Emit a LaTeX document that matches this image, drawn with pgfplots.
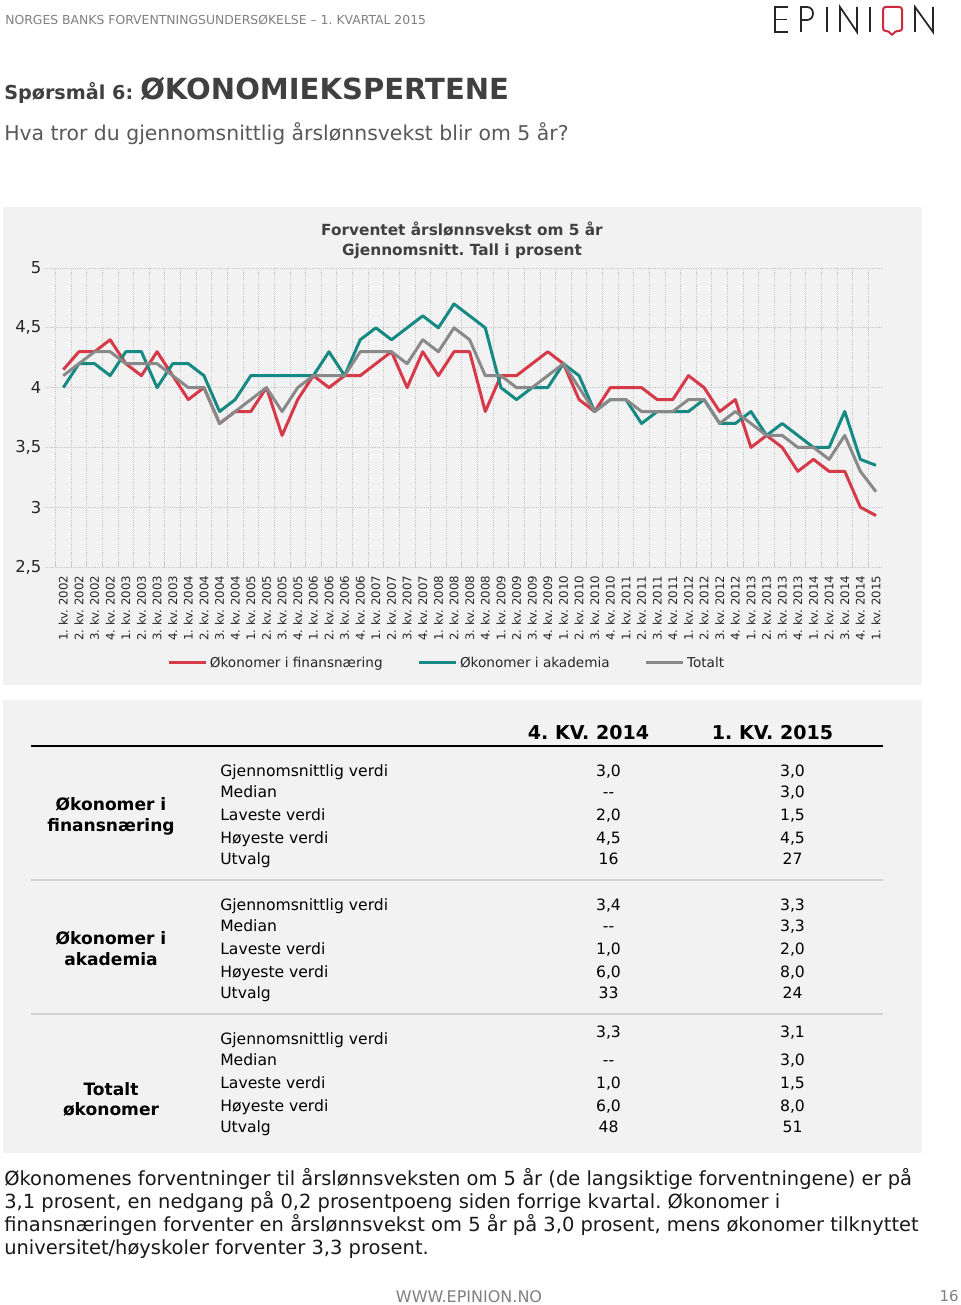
\documentclass[border=0pt]{standalone}
\usepackage{pgfplots}
\pgfplotsset{compat=1.18}
\usepackage{pgfplotstable}
\usepackage{fontspec}
\setmainfont{DejaVu Sans}
\frenchspacing
\definecolor{cred}{RGB}{214,57,72}
\definecolor{cteal}{RGB}{21,137,130}
\definecolor{cgray}{RGB}{137,137,137}
\definecolor{panel}{RGB}{242,242,242}
\definecolor{dark}{RGB}{64,64,64}
\definecolor{sub}{RGB}{89,89,89}
\definecolor{hdr}{RGB}{128,128,128}
\definecolor{gridc}{RGB}{200,200,200}
\definecolor{logored}{RGB}{208,40,60}

\pgfplotstableread{
x fin aka tot
0 4.15 4.0 4.1
1 4.3 4.2 4.2
2 4.3 4.2 4.3
3 4.4 4.1 4.3
4 4.2 4.3 4.2
5 4.1 4.3 4.2
6 4.3 4.0 4.2
7 4.1 4.2 4.1
8 3.9 4.2 4.0
9 4.0 4.1 4.0
10 3.7 3.8 3.7
11 3.8 3.9 3.8
12 3.8 4.1 3.9
13 4.0 4.1 4.0
14 3.6 4.1 3.8
15 3.9 4.1 4.0
16 4.1 4.1 4.1
17 4.0 4.3 4.1
18 4.1 4.1 4.1
19 4.1 4.4 4.3
20 4.2 4.5 4.3
21 4.3 4.4 4.3
22 4.0 4.5 4.2
23 4.3 4.6 4.4
24 4.1 4.5 4.3
25 4.3 4.7 4.5
26 4.3 4.6 4.4
27 3.8 4.5 4.1
28 4.1 4.0 4.1
29 4.1 3.9 4.0
30 4.2 4.0 4.0
31 4.3 4.0 4.1
32 4.2 4.2 4.2
33 3.9 4.1 4.0
34 3.8 3.8 3.8
35 4.0 3.9 3.9
36 4.0 3.9 3.9
37 4.0 3.7 3.8
38 3.9 3.8 3.8
39 3.9 3.8 3.8
40 4.1 3.8 3.9
41 4.0 3.9 3.9
42 3.8 3.7 3.7
43 3.9 3.7 3.8
44 3.5 3.8 3.7
45 3.6 3.6 3.6
46 3.5 3.7 3.6
47 3.3 3.6 3.5
48 3.4 3.5 3.5
49 3.3 3.5 3.4
50 3.3 3.8 3.6
51 3.0 3.4 3.3
52 2.93 3.35 3.13
}\datatab

\begin{document}
\begin{tikzpicture}
\begin{scope}[x=0.75pt,y=-0.75pt]
\fill[white] (0,0) rectangle (960,1305);
\fill[panel] (3,207) rectangle (922,685);
\fill[panel] (3,700) rectangle (922,1153);
\end{scope}

\begin{axis}[
  at={(33.75pt,-425.25pt)}, anchor=south west,
  scale only axis, width=628.5pt, height=224.25pt,
  xmin=-1.17, xmax=52.45, ymin=2.5, ymax=5,
  axis line style={draw=none},
  tick pos=left,
  xtick={0,...,52},
  xticklabels={1. kv. 2002,2. kv. 2002,3. kv. 2002,4. kv. 2002,
    1. kv. 2003,2. kv. 2003,3. kv. 2003,4. kv. 2003,
    1. kv. 2004,2. kv. 2004,3. kv. 2004,4. kv. 2004,
    1. kv. 2005,2. kv. 2005,3. kv. 2005,4. kv. 2005,
    1. kv. 2006,2. kv. 2006,3. kv. 2006,4. kv. 2006,
    1. kv. 2007,2. kv. 2007,3. kv. 2007,4. kv. 2007,
    1. kv. 2008,2. kv. 2008,3. kv. 2008,4. kv. 2008,
    1. kv. 2009,2. kv. 2009,3. kv. 2009,4. kv. 2009,
    1. kv. 2010,2. kv. 2010,3. kv. 2010,4. kv. 2010,
    1. kv. 2011,2. kv. 2011,3. kv. 2011,4. kv. 2011,
    1. kv. 2012,2. kv. 2012,3. kv. 2012,4. kv. 2012,
    1. kv. 2013,2. kv. 2013,3. kv. 2013,4. kv. 2013,
    1. kv. 2014,2. kv. 2014,3. kv. 2014,4. kv. 2014,
    1. kv. 2015},
  minor xtick={-0.5,0.5,...,52.5},
  xminorgrids=true, ymajorgrids=true,
  minor grid style={densely dotted, color=gridc, line width=0.6pt},
  major grid style={densely dotted, color=gridc, line width=0.6pt},
  ytick={2.5,3,3.5,4,4.5,5},
  major tick length=0pt, minor tick length=4pt,
  minor tick style={color=gridc, line width=0.6pt},
  yticklabel style={font=\fontsize{12.3}{14}\selectfont, color=black!85, inner sep=0pt,
    /pgf/number format/use comma, /pgf/number format/fixed,
    /pgf/number format/assume math mode=true},
  yticklabel shift=2.5pt,
  xticklabel style={font=\fontsize{8.8}{10}\selectfont, rotate=90, anchor=east, color=black!85},
  xticklabel shift=3pt,
  legend columns=3,
  legend image code/.code={\draw[#1] (0pt,0pt) -- (27.75pt,0pt);},
  legend style={at={(0.4797,-0.321)}, anchor=center, draw=none, fill=none,
    font=\fontsize{10.2}{12}\selectfont, text=black!85,
    /tikz/every even column/.append style={column sep=24pt}},
]
\addplot[cred, line width=2.25pt, line join=round] table[x=x,y=fin]{\datatab};
\addplot[cteal, line width=2.25pt, line join=round] table[x=x,y=aka]{\datatab};
\addplot[cgray, line width=2.25pt, line join=round] table[x=x,y=tot]{\datatab};
\legend{Økonomer i finansnæring, Økonomer i akademia, Totalt}
\end{axis}

\begin{scope}[x=0.75pt,y=-0.75pt, every node/.style={inner sep=0pt}]
% header
\node[anchor=base west, text=hdr] at (5,25) {\fontsize{9.3}{11}\selectfont NORGES BANKS FORVENTNINGSUNDERSØKELSE – 1. KVARTAL 2015};
% logo
\begin{scope}[line width=1.3pt, black!85]
\draw (788,7) -- (775,7) -- (775,32) -- (788,32);
\draw (775,19.5) -- (787,19.5);
\draw (801,32) -- (801,7) -- (807,7) .. controls (815,7) and (815,20) .. (807,20) -- (801,20);
\draw (827,7) -- (827,32);
\draw (840,32) -- (840,7) -- (857,32) -- (857,7);
\draw (870,7) -- (870,32);
\draw (915,32) -- (915,7) -- (933,32) -- (933,7);
\end{scope}
\draw[logored, line width=1.5pt, rounded corners=2pt] (889,31) -- (883,31) -- (883,7) -- (902,7) -- (902,31) -- (895,31) -- (892,36) -- cycle;
% title
\node[anchor=base west, text=dark] at (4,100) {\fontsize{14.4}{17}\selectfont\bfseries Spørsmål 6:};
\node[anchor=base west, text=dark] at (140,100) {\fontsize{21.8}{26}\selectfont\bfseries ØKONOMIEKSPERTENE};
\node[anchor=base west, text=sub] at (4,141) {\fontsize{15.3}{18}\selectfont Hva tror du gjennomsnittlig årslønnsvekst blir om 5 år?};
% chart title
\node[anchor=base, text=dark] at (462,236) {\fontsize{11.5}{14}\selectfont\bfseries Forventet årslønnsvekst om 5 år};
\node[anchor=base, text=dark] at (462,255) {\fontsize{11.5}{14}\selectfont\bfseries Gjennomsnitt. Tall i prosent};
% table header
\node[anchor=base] at (588.5,739) {\fontsize{14.3}{17}\selectfont\bfseries 4. KV. 2014};
\node[anchor=base] at (772.5,739) {\fontsize{14.3}{17}\selectfont\bfseries 1. KV. 2015};
\draw[black, line width=1.5pt] (31,745.5) -- (883,745.5);
\draw[black!18, line width=1.5pt] (31,880) -- (883,880);
\draw[black!18, line width=1.5pt] (31,1014) -- (883,1014);
% group labels
\begin{scope}[every node/.append style={font=\fontsize{12.8}{15}\selectfont\bfseries, anchor=base}]
\node at (111,810) {Økonomer i};
\node at (111,831) {finansnæring};
\node at (111,944) {Økonomer i};
\node at (111,965) {akademia};
\node at (111,1095) {Totalt};
\node at (111,1115) {økonomer};
\end{scope}
% row labels and values
\begin{scope}[every node/.append style={font=\fontsize{11.7}{14}\selectfont}]
\node[anchor=base west] at (220,776) {Gjennomsnittlig verdi};
\node[anchor=base west] at (220,797) {Median};
\node[anchor=base west] at (220,820) {Laveste verdi};
\node[anchor=base west] at (220,843) {Høyeste verdi};
\node[anchor=base west] at (220,864) {Utvalg};
\node[anchor=base] at (608.5,776) {3,0};
\node[anchor=base] at (608.5,797) {-{}-};
\node[anchor=base] at (608.5,820) {2,0};
\node[anchor=base] at (608.5,843) {4,5};
\node[anchor=base] at (608.5,864) {16};
\node[anchor=base] at (792.5,776) {3,0};
\node[anchor=base] at (792.5,797) {3,0};
\node[anchor=base] at (792.5,820) {1,5};
\node[anchor=base] at (792.5,843) {4,5};
\node[anchor=base] at (792.5,864) {27};
%
\node[anchor=base west] at (220,910) {Gjennomsnittlig verdi};
\node[anchor=base west] at (220,931) {Median};
\node[anchor=base west] at (220,954) {Laveste verdi};
\node[anchor=base west] at (220,977) {Høyeste verdi};
\node[anchor=base west] at (220,998) {Utvalg};
\node[anchor=base] at (608.5,910) {3,4};
\node[anchor=base] at (608.5,931) {-{}-};
\node[anchor=base] at (608.5,954) {1,0};
\node[anchor=base] at (608.5,977) {6,0};
\node[anchor=base] at (608.5,998) {33};
\node[anchor=base] at (792.5,910) {3,3};
\node[anchor=base] at (792.5,931) {3,3};
\node[anchor=base] at (792.5,954) {2,0};
\node[anchor=base] at (792.5,977) {8,0};
\node[anchor=base] at (792.5,998) {24};
%
\node[anchor=base west] at (220,1044) {Gjennomsnittlig verdi};
\node[anchor=base west] at (220,1065) {Median};
\node[anchor=base west] at (220,1088) {Laveste verdi};
\node[anchor=base west] at (220,1111) {Høyeste verdi};
\node[anchor=base west] at (220,1132) {Utvalg};
\node[anchor=base] at (608.5,1037) {3,3};
\node[anchor=base] at (608.5,1065) {-{}-};
\node[anchor=base] at (608.5,1088) {1,0};
\node[anchor=base] at (608.5,1111) {6,0};
\node[anchor=base] at (608.5,1132) {48};
\node[anchor=base] at (792.5,1037) {3,1};
\node[anchor=base] at (792.5,1065) {3,0};
\node[anchor=base] at (792.5,1088) {1,5};
\node[anchor=base] at (792.5,1111) {8,0};
\node[anchor=base] at (792.5,1132) {51};
\end{scope}
% paragraph
\begin{scope}[every node/.append style={font=\fontsize{14.6}{17}\selectfont, anchor=base west, text=black!90}]
\node at (4,1185) {Økonomenes forventninger til årslønnsveksten om 5 år (de langsiktige forventningene) er på};
\node at (4,1208) {3,1 prosent, en nedgang på 0,2 prosentpoeng siden forrige kvartal. Økonomer i};
\node at (4,1231) {finansnæringen forventer en årslønnsvekst om 5 år på 3,0 prosent, mens økonomer tilknyttet};
\node at (4,1254) {universitet/høyskoler forventer 3,3 prosent.};
\end{scope}
% footer
\node[anchor=base, text=hdr] at (469,1302) {\fontsize{12}{14}\selectfont WWW.EPINION.NO};
\node[anchor=base east, text=hdr] at (959,1301) {\fontsize{11.2}{13}\selectfont 16};
\end{scope}
\end{tikzpicture}
\end{document}
